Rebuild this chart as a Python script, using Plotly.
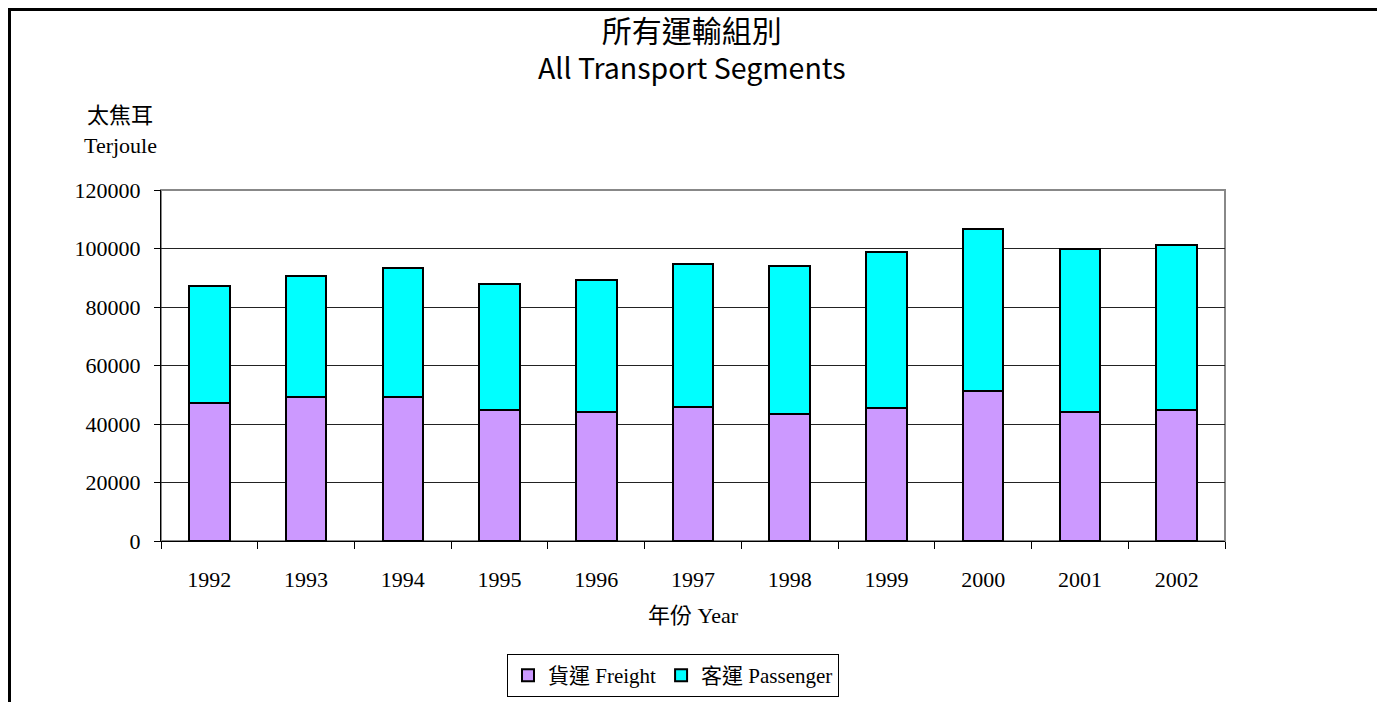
import plotly.graph_objects as go

years = ["1992", "1993", "1994", "1995", "1996", "1997", "1998", "1999", "2000", "2001", "2002"]
freight = [47300, 49200, 49200, 44800, 44000, 45800, 43300, 45400, 51400, 44100, 44800]
passenger = [39900, 41300, 44000, 43100, 45400, 48800, 50600, 53300, 55200, 55700, 56500]
y_ticks = [0, 20000, 40000, 60000, 80000, 100000, 120000]

serif = "Liberation Serif, Noto Sans CJK TC, serif"
sans = "Noto Sans CJK TC, Noto Sans, sans-serif"

fig = go.Figure()
fig.add_trace(go.Bar(x=years, y=freight, name="貨運 Freight",
                     marker=dict(color="#CC99FF", line=dict(color="black", width=2))))
fig.add_trace(go.Bar(x=years, y=passenger, name="客運 Passenger",
                     marker=dict(color="#00FFFF", line=dict(color="black", width=2))))

OFF = 8  # page body margin
W, H = 1385, 702
PL, PR, PT, PB = 161, 1225, 190, 541  # plot area in page pixels
L = PL - OFF
T = PT - OFF
R = W - (PR - OFF)
B = H - (PB - OFF)
pw, ph = PR - PL, PB - PT

def px_x(px):
    return (px - PL) / pw

def px_y(py):
    return (PB - py) / ph

fig.update_layout(
    barmode="stack",
    bargap=0.58,
    width=W, height=H,
    margin=dict(l=L, r=R, t=T, b=B),
    paper_bgcolor="white", plot_bgcolor="white",
    font=dict(family=serif, size=22, color="black"),
    showlegend=True,
    legend=dict(orientation="h", x=px_x(673), xanchor="center", y=px_y(654), yanchor="top",
                bordercolor="black", borderwidth=1, font=dict(family=serif, size=21),
                traceorder="normal", itemwidth=30),
    xaxis=dict(type="category", tickson="boundaries", ticks="outside", ticklen=7,
               tickcolor="black", showline=True, linecolor="black", linewidth=1,
               showgrid=False, tickfont=dict(family=serif, size=22), ticklabelstandoff=19),
    yaxis=dict(range=[0, 120000], tickvals=y_ticks, ticktext=[str(v) for v in y_ticks],
               ticks="outside", ticklen=6, tickcolor="black", showline=True,
               linecolor="black", linewidth=1, showgrid=True, gridcolor="#222",
               gridwidth=1, zeroline=False, tickfont=dict(family=serif, size=22),
               ticklabelstandoff=9),
    shapes=[
        dict(type="rect", xref="paper", yref="paper", x0=0, x1=1, y0=0, y1=1,
             line=dict(color="#888", width=2), layer="below"),
        dict(type="rect", xref="paper", yref="paper", x0=px_x(9.5), x1=px_x(1379),
             y0=px_y(9.5), y1=px_y(720), line=dict(color="black", width=3)),
    ],
    annotations=[
        dict(text="<span style='font-size:30px'>所有運輸組別</span><br>All Transport Segments",
             xref="paper", yref="paper", x=px_x(692), y=px_y(46.5), borderpad=0,
             showarrow=False, font=dict(family=sans, size=28.5), xanchor="center", yanchor="middle"),
        dict(text="太焦耳", xref="paper", yref="paper", x=px_x(120), y=px_y(116),
             showarrow=False, font=dict(family=serif, size=22), xanchor="center", yanchor="middle"),
        dict(text="Terjoule", xref="paper", yref="paper", x=px_x(120), y=px_y(145),
             showarrow=False, font=dict(family=serif, size=22), xanchor="center", yanchor="middle"),
        dict(text="年份 Year", xref="paper", yref="paper", x=px_x(693), y=px_y(615),
             showarrow=False, font=dict(family=serif, size=22), xanchor="center", yanchor="middle"),
    ],
)

fig.write_html("out.html")
